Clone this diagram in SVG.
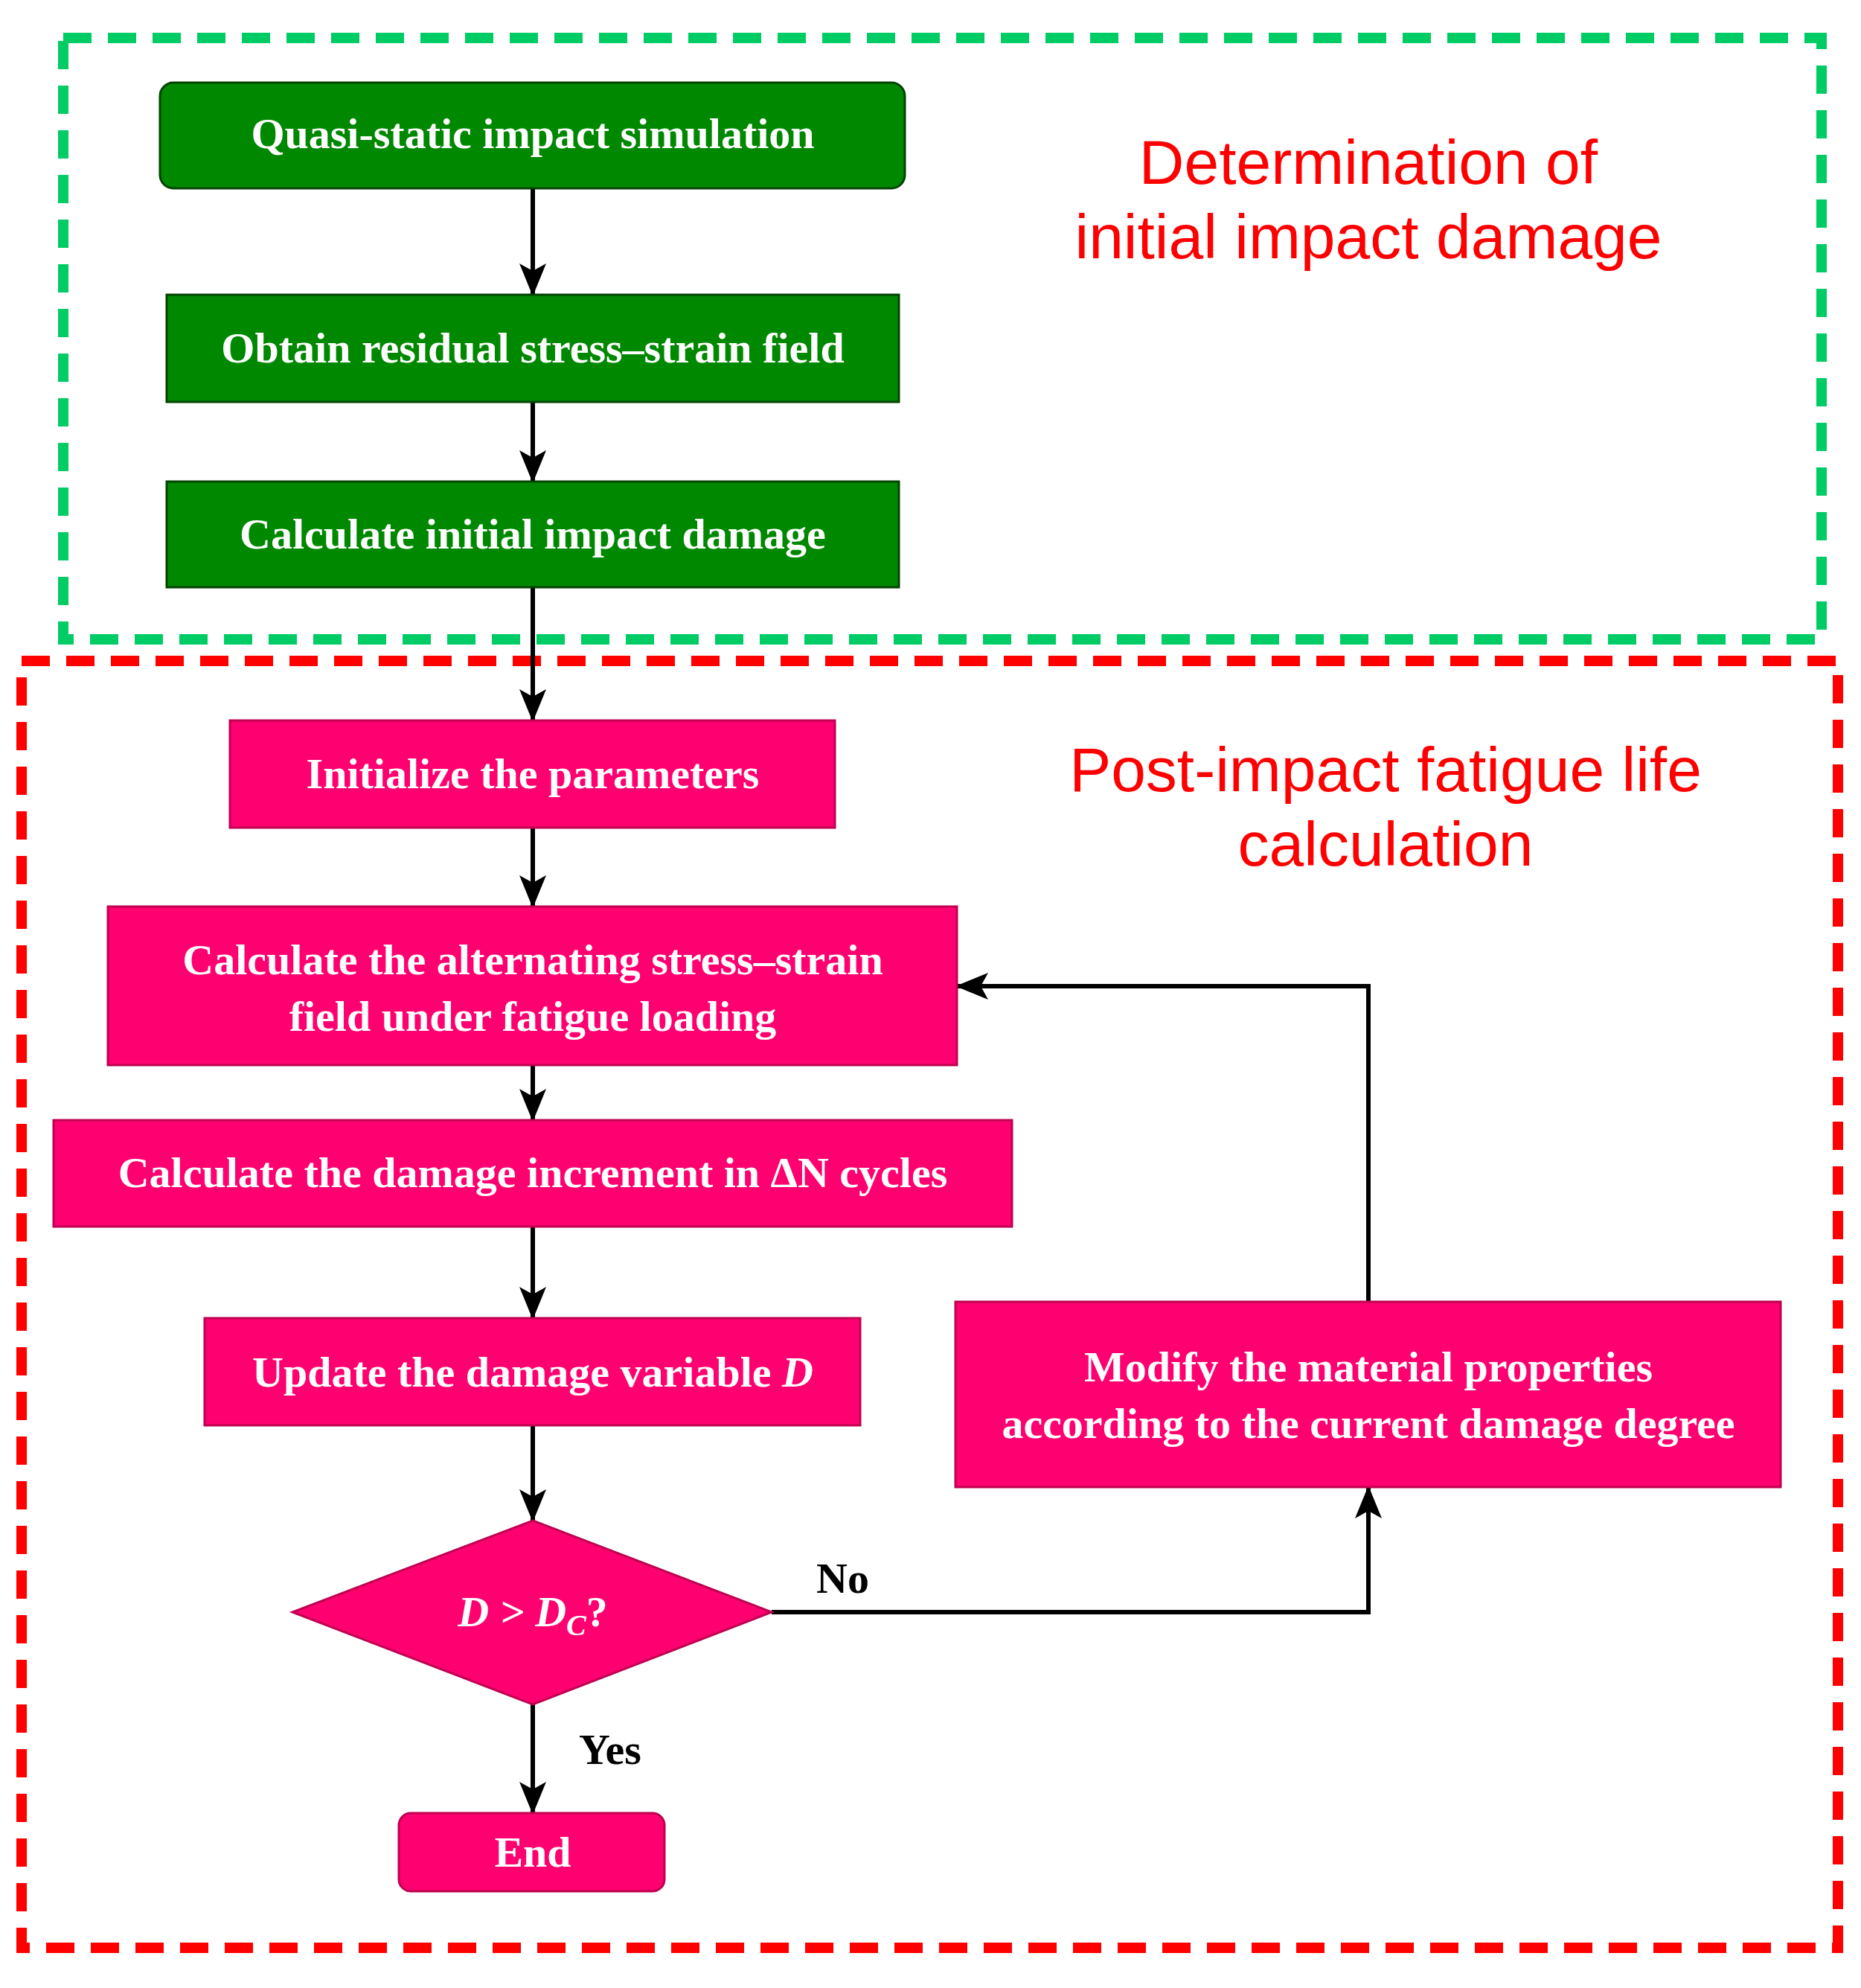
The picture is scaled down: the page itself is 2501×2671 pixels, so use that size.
<svg xmlns="http://www.w3.org/2000/svg" width="2501" height="2671" viewBox="0 0 2501 2671">
<style>
.g{fill:#008800;stroke:#004400;stroke-width:3}
.p{fill:#ff0070;stroke:#c00050;stroke-width:3}
.t{font-family:"Liberation Serif",serif;font-weight:bold;font-size:58px;fill:#fff;text-anchor:middle}
.h{font-family:"Liberation Sans",sans-serif;font-size:84px;fill:#ff0000;text-anchor:middle}
.l{font-family:"Liberation Serif",serif;font-weight:bold;font-size:58px;fill:#000}
.c{fill:none;stroke:#000;stroke-width:6}
</style>
<defs><marker id="a" markerWidth="12" markerHeight="12" refX="11" refY="6" orient="auto" markerUnits="userSpaceOnUse" viewBox="0 0 12 12"><path d="M0,0 L12,6 L0,12 L3,6 Z" fill="#000" transform="scale(1)"/></marker>
<marker id="b" markerWidth="44" markerHeight="40" refX="42" refY="20" orient="auto" markerUnits="userSpaceOnUse"><path d="M0,2 L44,20 L0,38 L10,20 Z" fill="#000"/></marker></defs>
<rect x="85" y="51" width="2363" height="808" fill="none" stroke="#00cc66" stroke-width="14" stroke-dasharray="38 22"/>
<rect x="29" y="888" width="2441" height="1729" fill="none" stroke="#ff0000" stroke-width="14" stroke-dasharray="38 22"/>
<text class="h" x="1839" y="247">Determination of</text>
<text class="h" x="1839" y="347">initial impact damage</text>
<text class="h" x="1862" y="1063">Post-impact fatigue life</text>
<text class="h" x="1862" y="1163">calculation</text>
<g id="connectors">
<path class="c" d="M716,253 V396" marker-end="url(#b)"/>
<path class="c" d="M716,540 V647" marker-end="url(#b)"/>
<path class="c" d="M716,789 V968" marker-end="url(#b)"/>
<path class="c" d="M716,1112 V1218" marker-end="url(#b)"/>
<path class="c" d="M716,1431 V1505" marker-end="url(#b)"/>
<path class="c" d="M716,1648 V1771" marker-end="url(#b)"/>
<path class="c" d="M716,1915 V2043" marker-end="url(#b)"/>
<path class="c" d="M716,2290 V2436" marker-end="url(#b)"/>
<path class="c" d="M1037,2166 H1839 V1998" marker-end="url(#b)"/>
<path class="c" d="M1839,1749 V1325 H1286" marker-end="url(#b)"/>
<text class="l" x="1097" y="2140">No</text>
<text class="l" x="778" y="2370">Yes</text>
</g>
<g id="n1"><rect class="g" x="215" y="111" width="1001" height="142" rx="18" stroke-width="4" stroke="#000"/><text class="t" x="716" y="199">Quasi-static impact simulation</text></g>
<g id="n2"><rect class="g" x="224" y="396" width="984" height="144"/><text class="t" x="716" y="487">Obtain residual stress–strain field</text></g>
<g id="n3"><rect class="g" x="224" y="647" width="984" height="142"/><text class="t" x="716" y="737">Calculate initial impact damage</text></g>
<g id="n4"><rect class="p" x="309" y="968" width="813" height="144"/><text class="t" x="716" y="1059">Initialize the parameters</text></g>
<g id="n5"><rect class="p" x="145" y="1218" width="1141" height="213"/><text class="t" x="716" y="1309">Calculate the alternating stress–strain</text><text class="t" x="716" y="1385">field under fatigue loading</text></g>
<g id="n6"><rect class="p" x="72" y="1505" width="1288" height="143"/><text class="t" x="716" y="1595">Calculate the damage increment in ΔN cycles</text></g>
<g id="n7"><rect class="p" x="275" y="1771" width="881" height="144"/><text class="t" x="716" y="1863">Update the damage variable <tspan font-style="italic">D</tspan></text></g>
<g id="n8"><rect class="p" x="1284" y="1749" width="1109" height="249"/><text class="t" x="1839" y="1856">Modify the material properties</text><text class="t" x="1839" y="1932">according to the current damage degree</text></g>
<g id="n9"><polygon class="p" points="716,2043 1037,2166 716,2290 393,2166"/><text class="t" x="716" y="2185" font-weight="normal" font-style="italic">D &gt; D<tspan font-size="40" dy="12">C</tspan><tspan dy="-12" font-style="normal">?</tspan></text></g>
<g id="n10"><rect class="p" x="536" y="2436" width="357" height="105" rx="16"/><text class="t" x="716" y="2508">End</text></g>
</svg>
